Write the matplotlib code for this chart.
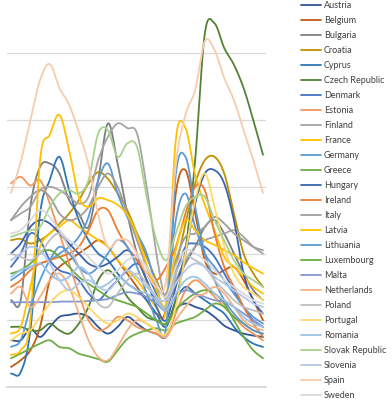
import numpy as np
import matplotlib
matplotlib.use("Agg")
import matplotlib.pyplot as plt

# values (one point per step, 27 steps)
austria = [0.7, 0.7, 0.88, 0.75, 0.9, 1.05, 1.08, 1.1, 1.05, 0.9, 0.8, 0.9, 1.05, 0.95, 0.85, 0.8, 0.75, 1.15, 1.25, 1.2, 1.15, 1.05, 0.92, 0.85, 0.8, 0.77, 0.75]
belgium = [0.3, 0.4, 0.55, 0.9, 1.6, 1.8, 1.9, 2.0, 2.1, 2.2, 2.1, 1.9, 1.7, 1.5, 1.3, 1.1, 1.2, 2.9, 3.25, 2.6, 1.9, 1.7, 1.75, 1.8, 1.6, 1.3, 1.0]
bulgaria = [1.3, 1.3, 2.7, 3.3, 3.35, 3.2, 2.8, 2.6, 2.4, 3.1, 3.95, 3.35, 2.6, 2.0, 1.6, 1.3, 1.2, 1.55, 1.85, 2.1, 2.4, 2.5, 2.3, 2.0, 1.7, 1.45, 1.3]
croatia = [2.2, 2.22, 2.15, 2.2, 2.3, 2.45, 2.6, 2.8, 3.05, 3.22, 3.12, 2.9, 2.65, 2.3, 1.95, 1.6, 1.35, 1.8, 2.45, 3.05, 3.4, 3.45, 3.2, 2.6, 2.0, 1.7, 1.5]
cyprus = [0.2, 0.22, 0.85, 2.6, 3.1, 3.45, 2.95, 2.5, 2.2, 2.0, 1.9, 1.7, 1.55, 1.45, 1.3, 1.1, 0.9, 1.3, 1.5, 1.4, 1.3, 1.2, 1.1, 0.9, 0.75, 0.65, 0.6]
czech = [0.9, 0.9, 0.85, 0.85, 0.95, 0.85, 0.8, 0.95, 1.2, 1.6, 1.75, 1.6, 1.35, 1.2, 1.05, 1.0, 0.95, 1.3, 2.05, 3.4, 5.3, 5.45, 5.08, 4.83, 4.48, 4.0, 3.48]
denmark = [1.8, 2.0, 2.3, 2.2, 1.9, 1.75, 1.7, 1.6, 1.4, 1.3, 1.45, 1.6, 1.75, 1.85, 1.7, 1.4, 1.15, 1.7, 2.1, 2.15, 2.1, 1.95, 1.7, 1.45, 1.2, 1.0, 0.9]
estonia = [3.05, 3.15, 3.02, 3.1, 2.75, 2.3, 1.85, 1.4, 1.0, 0.85, 0.9, 1.05, 1.0, 0.9, 0.85, 0.8, 0.75, 1.1, 1.45, 1.6, 1.5, 1.35, 1.2, 1.05, 0.9, 0.8, 0.7]
finland = [2.5, 2.6, 2.7, 2.95, 3.0, 2.95, 2.85, 2.75, 2.85, 3.4, 3.75, 3.95, 3.88, 3.8, 3.0, 2.0, 1.3, 1.6, 1.9, 2.1, 2.2, 2.25, 2.3, 2.35, 2.25, 2.1, 2.0]
france = [0.8, 0.9, 1.5, 2.1, 2.3, 2.4, 2.5, 2.4, 2.3, 2.2, 2.1, 1.9, 1.75, 1.6, 1.4, 1.2, 1.2, 3.7, 3.88, 3.18, 2.73, 2.35, 1.95, 1.8, 1.65, 1.5, 1.4]
germany = [1.6, 1.7, 1.8, 1.85, 1.9, 2.0, 2.1, 2.25, 2.55, 3.1, 3.35, 2.9, 2.55, 2.3, 2.0, 1.5, 1.2, 2.5, 2.9, 2.4, 2.0, 1.8, 1.6, 1.4, 1.2, 1.05, 0.95]
greece = [0.43, 0.5, 0.58, 0.65, 0.7, 0.6, 0.58, 0.5, 0.46, 0.42, 0.38, 0.55, 0.72, 0.8, 0.85, 0.88, 0.85, 0.95, 1.0, 1.05, 1.15, 1.25, 1.2, 1.05, 0.95, 0.85, 0.8]
hungary = [2.0, 2.15, 2.4, 2.5, 2.45, 2.3, 2.15, 2.0, 1.85, 1.8, 1.85, 1.95, 2.05, 1.9, 1.6, 1.2, 1.0, 1.5, 2.0, 2.75, 3.2, 3.25, 3.05, 2.5, 1.7, 1.3, 1.1]
ireland = [1.5, 1.6, 1.75, 1.85, 1.9, 1.95, 2.0, 2.1, 2.35, 2.65, 2.65, 2.35, 2.1, 1.9, 1.7, 1.6, 1.8, 2.1, 2.6, 3.0, 2.95, 2.3, 1.8, 1.5, 1.2, 0.95, 0.75]
italy = [2.5, 2.7, 2.85, 2.95, 2.85, 2.6, 2.5, 2.55, 2.7, 3.0, 3.2, 3.0, 2.6, 2.2, 1.8, 1.5, 1.4, 1.9, 2.25, 2.3, 2.4, 2.55, 2.45, 2.3, 2.2, 2.1, 2.05]
latvia = [0.48, 0.55, 1.0, 3.4, 3.78, 4.08, 3.55, 2.85, 2.7, 2.83, 2.8, 2.73, 2.58, 2.28, 1.83, 1.45, 1.23, 2.05, 2.5, 2.35, 2.2, 2.13, 2.05, 1.98, 1.87, 1.78, 1.7]
lithuania = [0.6, 0.7, 1.2, 1.6, 1.9, 2.1, 2.0, 1.8, 1.7, 1.8, 2.0, 2.2, 2.1, 1.8, 1.4, 1.0, 0.9, 3.18, 3.45, 2.7, 2.0, 1.6, 1.3, 1.1, 0.95, 0.85, 0.8]
luxembourg = [1.7, 1.75, 1.85, 2.0, 2.05, 1.95, 1.8, 1.65, 1.55, 1.45, 1.35, 1.3, 1.25, 1.2, 1.1, 1.0, 0.95, 1.15, 1.3, 1.4, 1.45, 1.4, 1.25, 1.0, 0.75, 0.55, 0.43]
malta = [1.27, 1.27, 1.27, 1.27, 1.27, 1.28, 1.28, 1.28, 1.29, 1.3, 1.32, 1.38, 1.42, 1.4, 1.35, 1.25, 1.15, 1.35, 1.45, 1.4, 1.35, 1.3, 1.28, 1.2, 1.1, 1.0, 0.9]
netherlands = [1.4, 1.5, 1.2, 1.35, 1.6, 1.7, 1.5, 1.1, 0.7, 0.45, 0.4, 0.6, 0.85, 1.0, 0.95, 0.85, 0.75, 1.0, 1.2, 1.35, 1.4, 1.5, 1.4, 1.2, 1.0, 0.9, 0.85]
poland = [2.0, 1.95, 1.9, 2.0, 2.2, 2.3, 2.1, 1.8, 1.5, 1.25, 1.2, 1.4, 1.6, 1.7, 1.55, 1.35, 1.2, 1.7, 1.95, 1.9, 1.8, 1.6, 1.45, 1.3, 1.2, 1.15, 1.1]
portugal = [0.7, 0.8, 0.85, 1.05, 1.25, 1.4, 1.45, 1.35, 1.2, 1.05, 0.95, 1.0, 1.1, 1.05, 0.95, 0.85, 0.8, 1.2, 2.0, 2.8, 3.2, 2.7, 2.1, 1.7, 1.5, 1.4, 1.3]
romania = [1.65, 1.75, 1.8, 1.85, 1.7, 1.6, 1.65, 1.8, 1.7, 1.5, 1.55, 1.65, 1.55, 1.45, 1.4, 1.3, 1.15, 1.4, 1.6, 1.65, 1.55, 1.4, 1.3, 1.2, 1.05, 0.95, 0.9]
slovakia = [2.25, 2.3, 2.35, 2.4, 2.7, 2.9, 2.95, 2.9, 3.1, 3.8, 3.85, 3.45, 3.65, 3.6, 2.85, 2.2, 1.9, 2.3, 2.7, 2.85, 2.85, 2.5, 2.2, 1.9, 1.7, 1.6, 1.5]
slovenia = [1.9, 2.0, 2.1, 2.05, 1.85, 1.6, 1.45, 1.55, 1.6, 1.5, 1.45, 1.6, 1.75, 1.65, 1.5, 1.35, 1.3, 1.55, 1.75, 1.85, 1.8, 1.65, 1.55, 1.45, 1.35, 1.25, 1.2]
spain = [2.91, 3.37, 4.0, 4.6, 4.84, 4.48, 4.23, 3.82, 3.33, 2.58, 2.1, 2.2, 2.2, 2.0, 1.7, 1.5, 1.6, 3.33, 4.08, 4.45, 5.18, 5.05, 4.63, 4.3, 3.85, 3.4, 2.91]
sweden = [2.3, 2.35, 2.5, 2.65, 2.55, 2.35, 2.2, 2.1, 1.95, 1.8, 1.7, 1.75, 1.9, 1.95, 1.8, 1.55, 1.35, 1.8, 2.05, 2.0, 1.9, 1.75, 1.6, 1.5, 1.4, 1.3, 1.25]

countries = ["Austria", "Belgium", "Bulgaria", "Croatia", "Cyprus", "Czech Republic",
             "Denmark", "Estonia", "Finland", "France", "Germany", "Greece", "Hungary",
             "Ireland", "Italy", "Latvia", "Lithuania", "Luxembourg", "Malta",
             "Netherlands", "Poland", "Portugal", "Romania", "Slovak Republic",
             "Slovenia", "Spain", "Sweden"]
series = [austria, belgium, bulgaria, croatia, cyprus, czech, denmark, estonia, finland,
          france, germany, greece, hungary, ireland, italy, latvia, lithuania, luxembourg,
          malta, netherlands, poland, portugal, romania, slovakia, slovenia, spain, sweden]
colors = ["#2F5597", "#C55A11", "#7F7F7F", "#BF9000", "#2E75B6", "#548235",
          "#4472C4", "#F1975A", "#A5A5A5", "#FFC000", "#5B9BD5", "#70AD47", "#3B64AD",
          "#ED7D31", "#9E9E9E", "#FFC000", "#5B9BD5", "#6AAB3F", "#8497D0",
          "#F4B183", "#BFBFBF", "#FFD966", "#9DC3E6", "#A9D18E",
          "#B4C7E7", "#F8CBAD", "#D9D9D9"]


def smooth(y, steps=16):
    # catmull-rom, close to excel's "smoothed line"
    y = np.asarray(y, dtype=float)
    p = np.concatenate([[2 * y[0] - y[1]], y, [2 * y[-1] - y[-2]]])
    xs, ys = [], []
    t = np.linspace(0, 1, steps, endpoint=False)
    for i in range(len(y) - 1):
        p0, p1, p2, p3 = p[i], p[i + 1], p[i + 2], p[i + 3]
        seg = 0.5 * (2 * p1 + (-p0 + p2) * t + (2 * p0 - 5 * p1 + 4 * p2 - p3) * t ** 2
                     + (-p0 + 3 * p1 - 3 * p2 + p3) * t ** 3)
        xs.append(i + t)
        ys.append(seg)
    xs.append([len(y) - 1])
    ys.append([y[-1]])
    return np.concatenate(xs), np.concatenate(ys)


fig = plt.figure(figsize=(3.92, 4.0), dpi=100)
ax = fig.add_axes([7 / 392, 13 / 400, 259 / 392, 387 / 400])

for name, vals, c in zip(countries, series, colors):
    sx, sy = smooth(vals)
    ax.plot(sx, sy, color=c, lw=1.3, label=name, solid_capstyle="round")

ax.set_xlim(-0.41, 26.31)
ax.set_ylim(0, 5.8)
ax.set_yticks([1, 2, 3, 4, 5])
ax.set_xticks([])
ax.tick_params(left=False, labelleft=False)
ax.grid(axis="y", color="#D9D9D9", lw=0.9)
ax.set_axisbelow(True)
for s in ["top", "right", "left"]:
    ax.spines[s].set_visible(False)
ax.spines["bottom"].set_color("#D0D0D0")
ax.spines["bottom"].set_linewidth(1.1)

leg = fig.legend(loc="upper left", bbox_to_anchor=(300 / 392, 1.0), frameon=False,
                 prop={"family": "Lato", "size": 6.5}, handlelength=2.2,
                 handletextpad=0.35, labelspacing=0.665, borderpad=0.1,
                 borderaxespad=0)
for t in leg.get_texts():
    t.set_color("#404040")

fig.savefig("out.png", dpi=100)
